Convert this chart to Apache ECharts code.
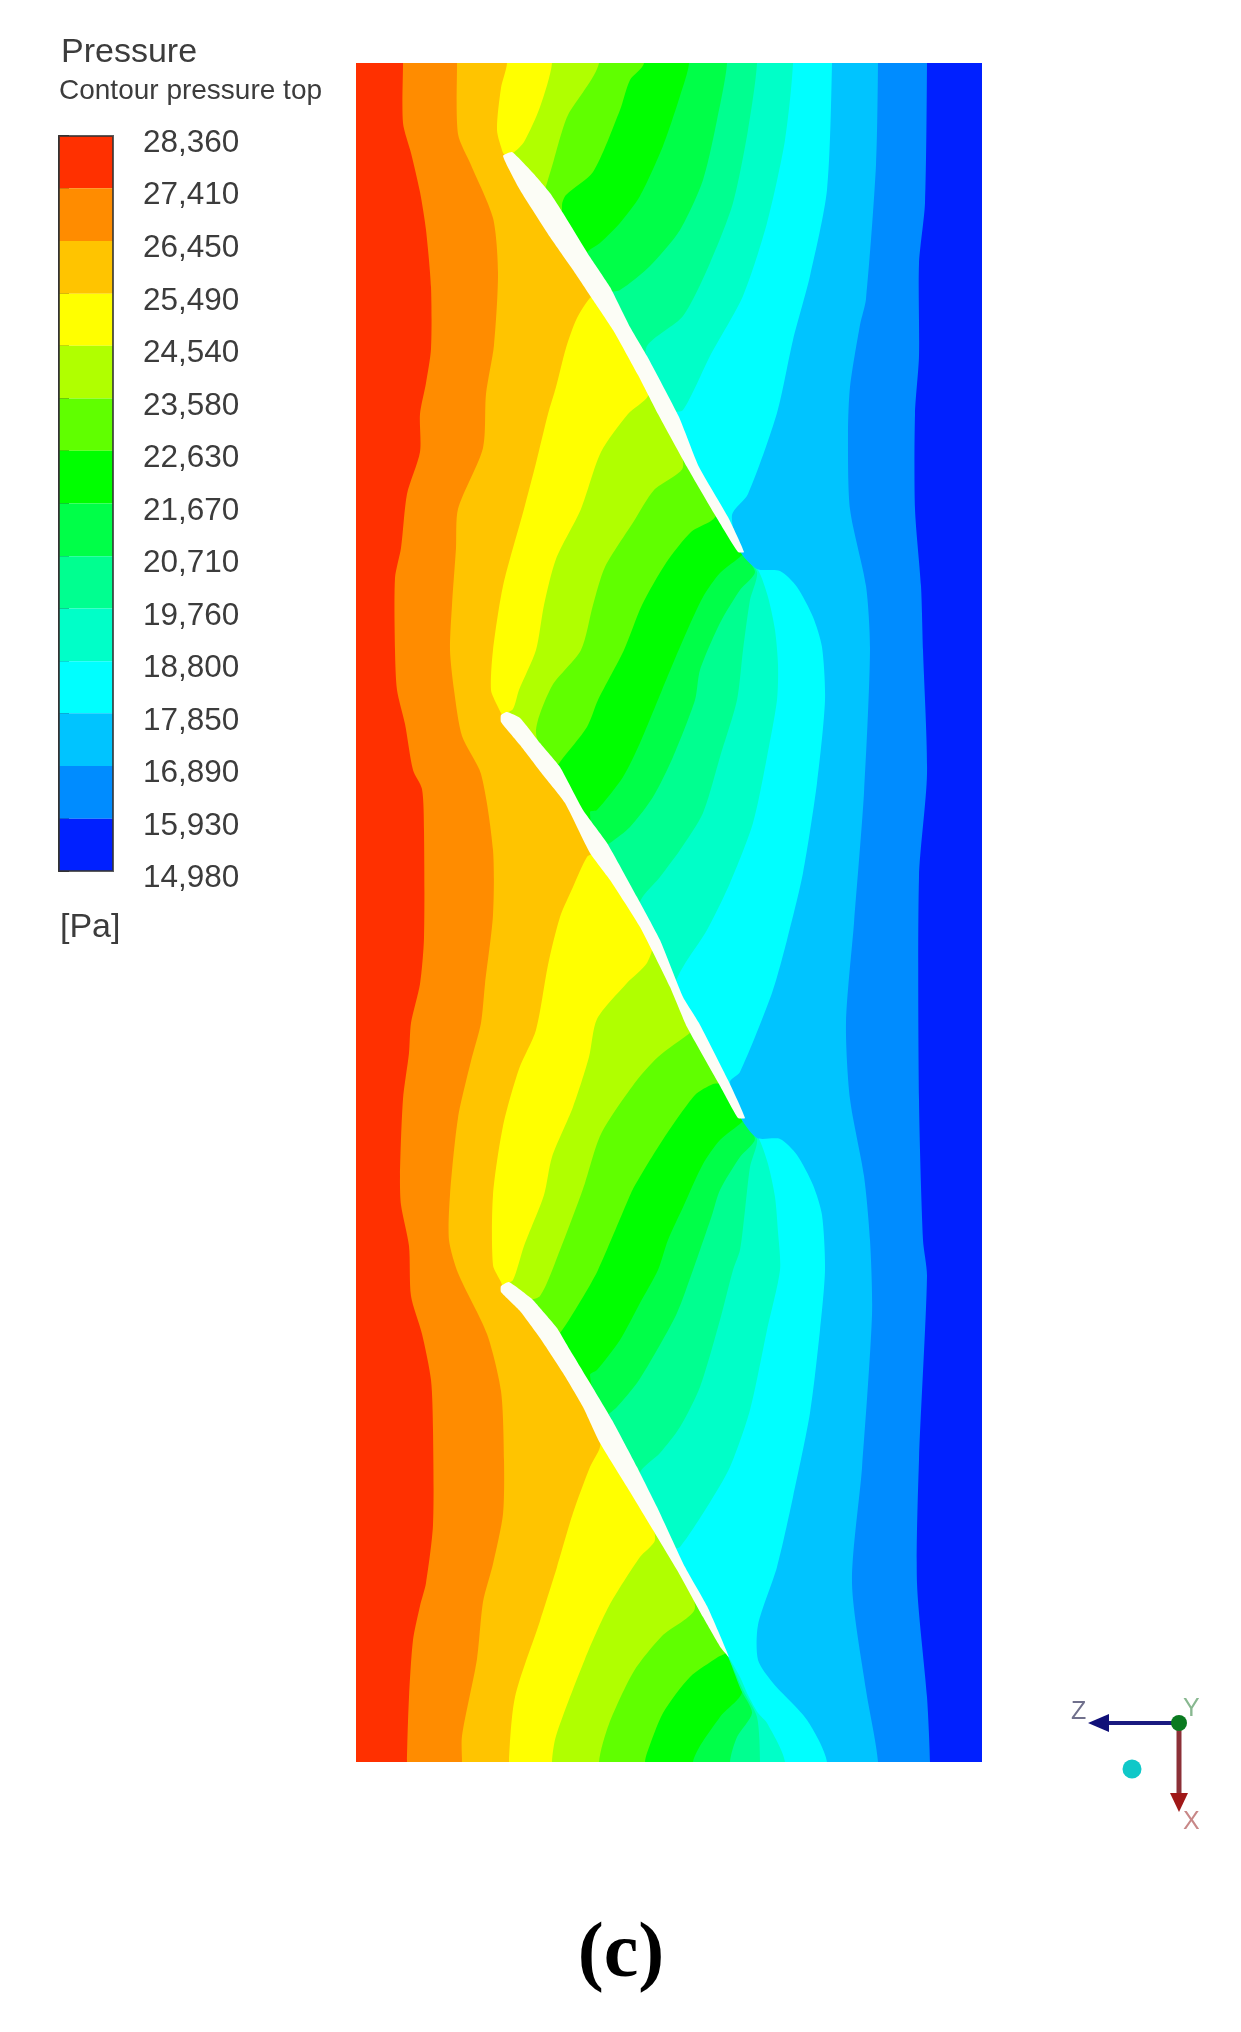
<!DOCTYPE html>
<html>
<head>
<meta charset="utf-8">
<title>Contour pressure top</title>
<style>
  html, body { margin: 0; padding: 0; background: #fff; }
  #chart { width: 1241px; height: 2032px; }
</style>
<script src="https://cdn.jsdelivr.net/npm/echarts@6/dist/echarts.min.js"></script>
</head>
<body>
<div id="chart"></div>
<script>
// legend ticks, top to bottom [Pa]
var legendTicks = [28360, 27410, 26450, 25490, 24540, 23580, 22630, 21670, 20710, 19760, 18800, 17850, 16890, 15930, 14980];

// one colour for each pressure band, high to low
var bandColors = ['#ff3000', '#ff8c00', '#ffc400', '#ffff00', '#b0ff00', '#60ff00', '#00ff00',
                  '#00ff48', '#00ff90', '#00ffc8', '#00ffff', '#00c4ff', '#008cff', '#0020ff'];

// domain limits of the plane (same units as the contour points below)
var domainX = [356, 982];
var domainY = [63, 1762];

// blade outlines
var blade1 = [[503,156],[512,152],[533,173],[550,193],[563,213],[590,257],[610,287],[630,327],[647,356],[679,417],[699,467],[728,517],[744,552],[738,552],[715,515],[687,467],[658,414],[638,375],[613,330],[593,300],[573,270],[550,237],[520,190]];
var blade2 = [[501,715],[507,712],[520,718],[540,743],[560,767],[583,810],[607,843],[637,897],[660,940],[683,997],[699,1023],[728,1080],[745,1118],[738,1118],[719,1084],[687,1027],[670,987],[640,927],[610,880],[590,853],[565,803],[543,775],[520,745],[501,722]];
var blade3 = [[501,1286],[509,1282],[532,1299],[540,1308],[557,1328],[570,1350],[590,1383],[612,1420],[637,1467],[657,1507],[685,1567],[707,1606],[729,1657],[721,1648],[703,1617],[677,1570],[653,1530],[627,1487],[600,1443],[583,1407],[563,1373],[540,1338],[520,1311],[501,1292]];

// mid lines of the blades: contours run along these, hidden by the white blade
var bladeMid = {
    b1: [[505,155],[522,175],[541,205],[565,240],[589,275],[602,295],[628,342],[648,375],[668,414],[693,467],[716,515],[740,551]],
    b2: [[503,716],[520,730],[552,775],[574,810],[597,850],[628,897],[653,940],[675,987],[694,1027],[724,1082],[741,1118]],
    b3: [[503,1287],[520,1304],[551,1338],[573,1373],[601,1420],[625,1467],[647,1507],[671,1550],[705,1612],[726,1652]]
};

// contour lines between the bands, left to right. 'b1' etc = follow that blade
var contour1 = [[403,63],[403,123],[411,153],[420,192],[426,230],[431,287],[431,349],[426,383],[420,414],[420,452],[407,494],[401,548],[395,578],[395,650],[397,690],[405,724],[413,770],[422,789],[424,831],[424,938],[420,984],[411,1023],[409,1053],[403,1099],[400,1176],[401,1205],[409,1246],[411,1296],[422,1334],[431,1380],[433,1430],[433,1525],[426,1583],[420,1606],[413,1640],[409,1697],[407,1762]];
var contour2 = [[457,63],[458,134],[471,165],[493,218],[498,272],[494,345],[486,394],[483,448],[458,509],[456,548],[452,605],[450,650],[454,690],[462,736],[481,774],[493,850],[493,915],[485,984],[481,1023],[471,1061],[458,1118],[450,1195],[449,1240],[458,1273],[487,1334],[501,1391],[504,1460],[503,1514],[493,1564],[483,1602],[477,1659],[462,1736],[462,1762]];
var contour3 = [[507,63],[501,88],[497,130],[503,153],'b1',[591,297],[577,318],[566,348],[556,387],[548,414],[536,463],[524,509],[503,586],[493,650],[491,690],[497,705],[501,713],'b2',[587,857],[573,887],[560,917],[548,965],[536,1030],[519,1069],[503,1126],[493,1195],[493,1265],[501,1282],'b3',[600,1447],[590,1467],[573,1513],[557,1567],[540,1621],[515,1697],[509,1762]];
var contour4 = [[552,63],[540,107],[524,142],[513,153],'b1',[648,396],[628,414],[601,452],[581,509],[556,559],[544,605],[536,650],[519,690],[513,709],'b2',[647,963],[627,983],[597,1019],[589,1057],[573,1107],[552,1157],[544,1195],[524,1246],[513,1280],'b3',[655,1540],[640,1557],[609,1606],[585,1659],[556,1736],[552,1762]];
var contour5 = [[599,63],[568,115],[560,138],[553,163],[547,183],'b1',[683,467],[654,490],[634,521],[605,567],[593,605],[581,650],[552,686],[536,732],'b2',[691,1032],[658,1057],[634,1084],[601,1134],[585,1183],[579,1200],[560,1250],[540,1296],'b3',[695,1608],[662,1636],[634,1671],[609,1724],[599,1762]];
var contour6 = [[644,63],[630,80],[620,110],[593,172],[566,195],[562,205],'b1',[711,521],[691,532],[666,563],[642,605],[624,650],[598,700],[587,727],[560,762],'b2',[713,1084],[695,1095],[662,1141],[634,1187],[628,1200],[598,1270],[583,1297],[560,1333],'b3',[718,1657],[690,1677],[663,1713],[647,1753],[645,1762]];
var contour7 = [[689,63],[680,96],[663,146],[640,196],[620,223],[600,243],[587,253],'b1',[742,555],[720,573],[703,597],[683,640],[662,690],[640,743],[623,777],[597,810],[590,812],'b2',[742,1122],[720,1140],[703,1164],[684,1205],[668,1240],[658,1270],[640,1303],[620,1340],[597,1370],[590,1375],'b3',[742,1692],[720,1717],[693,1762]];
var contour8 = [[727,63],[717,120],[703,180],[680,230],[650,266],[620,290],'b1',[755,572],[740,590],[720,623],[700,670],[695,700],[673,757],[653,797],[630,827],[610,843],'b2',[755,1139],[740,1157],[720,1190],[712,1215],[700,1250],[693,1270],[677,1313],[657,1350],[637,1383],[617,1407],[610,1413],'b3',[741,1690],[752,1713],[737,1737],[730,1762]];
var contour9 = [[757,63],[748,130],[733,203],[710,263],[683,316],[647,346],'b1',[757,572],[750,600],[743,650],[737,700],[720,757],[703,813],[680,850],[660,877],[640,903],'b2',[757,1139],[750,1167],[745,1210],[740,1250],[733,1270],[720,1320],[700,1387],[680,1427],[660,1453],[640,1473],'b3',[743,1690],[757,1717],[760,1762]];
var contour10 = [[793,63],[785,140],[767,223],[743,296],[710,356],[683,410],'b1',[758,570],[768,597],[775,630],[778,665],[777,700],[767,757],[753,823],[730,883],[707,930],[683,967],'b2',[758,1137],[768,1164],[775,1197],[778,1232],[780,1270],[767,1330],[750,1410],[730,1467],[707,1507],[680,1547],'b3',[740,1677],[748,1695],[758,1713],[767,1723],[785,1762]];
var contour11 = [[832,63],[827,190],[810,276],[793,340],[777,413],[748,494],[732,515],'b1',[757,569],[780,571],[797,587],[813,617],[822,647],[825,700],[817,783],[803,873],[787,940],[772,993],[740,1072],[730,1082],'b2',[757,1138],[780,1139],[797,1155],[813,1185],[822,1215],[825,1270],[820,1330],[810,1413],[793,1497],[777,1567],[758,1625],[758,1660],[773,1683],[807,1720],[827,1762]];
var contour12 = [[878,63],[876,165],[866,299],[860,325],[850,387],[848,433],[850,509],[866,586],[870,650],[864,793],[854,923],[846,1023],[850,1099],[864,1176],[870,1240],[872,1315],[862,1468],[852,1583],[866,1690],[878,1762]];
var contour13 = [[927,63],[925,203],[919,264],[919,356],[915,414],[915,509],[921,586],[923,650],[927,774],[919,877],[919,1099],[923,1240],[927,1276],[919,1460],[917,1583],[927,1697],[930,1762]];

var contours = [contour1, contour2, contour3, contour4, contour5, contour6, contour7, contour8, contour9, contour10, contour11, contour12, contour13];
var blades = [blade1, blade2, blade3];

// replace the blade tokens by the mid line points between the two neighbours
function expandContour(contour) {
    var res = [];
    for (var i = 0; i < contour.length; i++) {
        var p = contour[i];
        if (typeof p === 'string') {
            var y0 = contour[i - 1][1], y1 = contour[i + 1][1];
            bladeMid[p].forEach(function (m) {
                if (m[1] > y0 && m[1] < y1) res.push(m);
            });
        } else {
            res.push(p);
        }
    }
    return res;
}

var fullContours = contours.map(expandContour);

// band i fills everything right of contour i-1, later bands paint over it.
// the closing points lie far outside the domain, the grid clips them
function renderBand(params, api) {
    var i = api.value(0);
    var line = i === 0 ? [[domainX[0] - 200, domainY[0]], [domainX[0] - 200, domainY[1]]] : fullContours[i - 1];
    var first = line[0], last = line[line.length - 1];
    var pts = [[first[0], domainY[0] - 100]].concat(line, [
        [last[0], domainY[1] + 100],
        [domainX[1] + 200, domainY[1] + 200],
        [domainX[1] + 200, domainY[0] - 200]
    ]);
    return {
        type: 'polygon',
        shape: { points: pts.map(function (p) { return api.coord(p); }), smooth: 0.25 },
        style: { fill: bandColors[i] }
    };
}

function renderBlade(params, api) {
    return {
        type: 'polygon',
        shape: { points: blades[api.value(0)].map(function (p) { return api.coord(p); }), smooth: 0.15 },
        style: { fill: '#fcfdf6' }
    };
}

function renderLegendBand(params, api) {
    var a = api.coord([0, legendTicks[api.value(0)]]);
    var b = api.coord([1, legendTicks[api.value(0) + 1]]);
    return {
        type: 'rect',
        shape: { x: a[0], y: a[1], width: b[0] - a[0], height: b[1] - a[1] },
        style: { fill: bandColors[api.value(0)] }
    };
}

function renderLegendFrame(params, api) {
    var a = api.coord([0, legendTicks[0]]);
    var b = api.coord([1, legendTicks[legendTicks.length - 1]]);
    return {
        type: 'rect',
        shape: { x: a[0], y: a[1], width: b[0] - a[0], height: b[1] - a[1] },
        style: { fill: 'none', stroke: '#333', lineWidth: 2, opacity: 0.8 }
    };
}

var chart = echarts.init(document.getElementById('chart'));

var ink = '#3c3c3c';
var sans = '"Liberation Sans", Arial, sans-serif';

chart.setOption({
    animation: false,
    backgroundColor: '#fff',
    grid: [
        { left: domainX[0], top: domainY[0], width: domainX[1] - domainX[0], height: domainY[1] - domainY[0] },
        { left: 59, top: 136, width: 54, height: 735 }
    ],
    xAxis: [
        { type: 'value', gridIndex: 0, min: domainX[0], max: domainX[1], show: false },
        { type: 'value', gridIndex: 1, min: 0, max: 1, show: false }
    ],
    yAxis: [
        { type: 'value', gridIndex: 0, min: domainY[0], max: domainY[1], inverse: true, show: false },
        {
            type: 'value',
            gridIndex: 1,
            position: 'right',
            min: legendTicks[legendTicks.length - 1],
            max: legendTicks[0],
            splitLine: { show: false },
            axisLine: { show: true, lineStyle: { color: '#333', width: 2 } },
            axisTick: { show: true, customValues: legendTicks, length: 10, lineStyle: { color: '#333', width: 2 } },
            axisLabel: {
                customValues: legendTicks,
                margin: 30,
                color: ink,
                fontFamily: sans,
                fontSize: 31.5,
                verticalAlign: 'top',
                lineHeight: 15,
                formatter: function (v) {
                    return String(v).replace(/(\d)(\d{3})$/, '$1,$2');
                }
            }
        }
    ],
    series: [
        {
            type: 'custom',
            xAxisIndex: 0,
            yAxisIndex: 0,
            renderItem: renderBand,
            clip: true,
            data: bandColors.map(function (c, i) { return [i]; })
        },
        {
            type: 'custom',
            xAxisIndex: 0,
            yAxisIndex: 0,
            renderItem: renderBlade,
            clip: true,
            z: 3,
            data: blades.map(function (b, i) { return [i]; })
        },
        {
            type: 'custom',
            xAxisIndex: 1,
            yAxisIndex: 1,
            renderItem: renderLegendBand,
            data: bandColors.map(function (c, i) { return [i]; })
        },
        {
            type: 'custom',
            xAxisIndex: 1,
            yAxisIndex: 1,
            renderItem: renderLegendFrame,
            z: 3,
            data: [[0]]
        }
    ],
    graphic: [
        // legend texts
        { type: 'text', left: 61, top: 36, style: { text: 'Pressure', fill: ink, font: '34px ' + sans } },
        { type: 'text', left: 59, top: 77, style: { text: 'Contour pressure top', fill: ink, font: '28px ' + sans } },
        { type: 'text', left: 60, top: 911, style: { text: '[Pa]', fill: ink, font: '34px ' + sans } },
        // triad bottom right
        { type: 'line', shape: { x1: 1179, y1: 1723, x2: 1100, y2: 1723 }, style: { stroke: '#1a1a80', lineWidth: 4 } },
        { type: 'polygon', shape: { points: [[1088, 1723], [1109, 1714], [1109, 1732]] }, style: { fill: '#101078' } },
        { type: 'line', shape: { x1: 1179, y1: 1723, x2: 1179, y2: 1800 }, style: { stroke: '#8c3038', lineWidth: 5 } },
        { type: 'polygon', shape: { points: [[1179, 1812], [1170, 1793], [1188, 1793]] }, style: { fill: '#a01818' } },
        { type: 'circle', shape: { cx: 1179, cy: 1723, r: 8 }, style: { fill: '#0a7a20' } },
        { type: 'circle', shape: { cx: 1132, cy: 1769, r: 9.5 }, style: { fill: '#10c8c8' } },
        { type: 'text', x: 1071, y: 1700, style: { text: 'Z', fill: '#70708c', font: '25px ' + sans } },
        { type: 'text', x: 1183, y: 1697, style: { text: 'Y', fill: '#88b890', font: '25px ' + sans } },
        { type: 'text', x: 1183, y: 1810, style: { text: 'X', fill: '#c88888', font: '25px ' + sans } },
        // panel label
        { type: 'text', x: 621, y: 1956, style: { text: '(c)', fill: '#000', font: 'bold 78px "Liberation Serif", serif', textAlign: 'center', textVerticalAlign: 'middle' } }
    ]
});

window.addEventListener('resize', function () {
    chart.resize();
});
</script>
</body>
</html>
